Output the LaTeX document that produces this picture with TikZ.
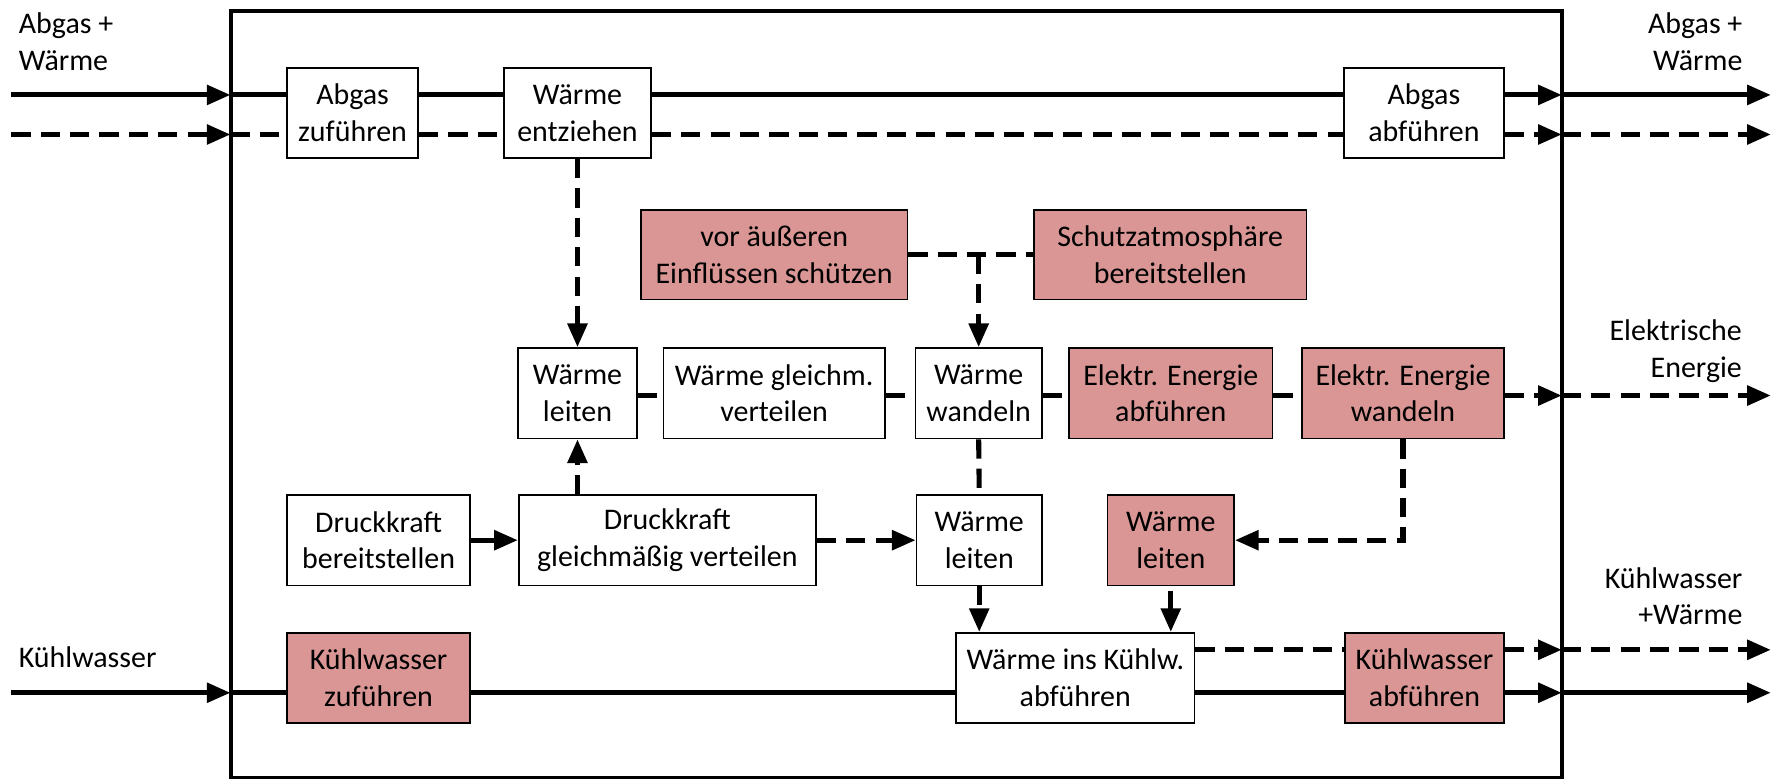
\documentclass[tikz,border=0pt]{standalone}
\usepackage{fontspec}
\setmainfont{Carlito}
\usetikzlibrary{arrows.meta}
\definecolor{pinkfill}{HTML}{D99694}
\newcommand\tw[2]{#1\\#2}
\tikzset{
  box/.style={draw=black, line width=1.5pt, fill=white, inner sep=0pt, align=center,
    font=\fontsize{26.5}{32.5}\selectfont, minimum height=80pt},
  pbox/.style={box, fill=pinkfill},
  flow/.style={line width=4.5pt},
  dflow/.style={flow, dash pattern=on 17pt off 9pt},
  tip/.style={-{Triangle[length=21pt,width=17pt]}},
  lbl/.style={inner sep=0pt, font=\fontsize{26.5}{32.5}\selectfont},
  frame/.style={line width=3.5pt},
}
\begin{document}
\begin{tikzpicture}[x=1pt,y=-1pt]
\useasboundingbox (0,0) rectangle (1568,690);
% levels and frame
\coordinate (FL) at (204,0);
\coordinate (FR) at (1382,0);
\coordinate (L0) at (10,0);
\coordinate (R0) at (1567,0);
\coordinate (ftop) at (0,10);
\coordinate (fbot) at (0,688);
\coordinate (r1s) at (0,84);
\coordinate (r1d) at (0,119);
\coordinate (r3) at (0,350);
\coordinate (r5d) at (0,575);
\coordinate (r5s) at (0,613);

% boxes
\node[box, minimum width=116pt] (zu) at (312,100) {\tw{Abgas}{zuführen}};
\node[box, minimum width=130pt] (ent) at (511,100) {\tw{Wärme}{entziehen}};
\node[box, minimum width=142pt] (abf) at (1260,100) {\tw{Abgas}{abführen}};

\node[pbox, minimum width=236pt, minimum height=79pt] (vor) at (685,225.5) {\tw{vor äußeren}{Einflüssen schützen}};
\node[pbox, minimum width=241pt, minimum height=79pt] (schutz) at (1035.5,225.5) {\tw{Schutzatmosphäre}{bereitstellen}};

\node[box, minimum width=105pt] (wl1) at (511,348) {\tw{Wärme}{leiten}};
\node[box, minimum width=196pt] (wgv) at (685,348) {\tw{Wärme gleichm.}{verteilen}};
\node[box, minimum width=112pt] (ww) at (866,348) {\tw{Wärme}{wandeln}};
\node[pbox, minimum width=180pt] (eea) at (1036,348) {\tw{Elektr. Energie}{abführen}};
\node[pbox, minimum width=179pt] (eew) at (1241.5,348) {\tw{Elektr. Energie}{wandeln}};

\node[box, minimum width=162pt] (dkb) at (335,478) {\tw{Druckkraft}{bereitstellen}};
\node[box, minimum width=263pt] (dkg) at (590.5,478) {\tw{Druckkraft}{gleichmäßig verteilen}};
\node[box, minimum width=111pt] (wl2) at (866.5,478) {\tw{Wärme}{leiten}};
\node[pbox, minimum width=112pt] (wlp) at (1036,478) {\tw{Wärme}{leiten}};

\node[pbox, minimum width=162pt] (kwz) at (335,600) {\tw{Kühlwasser}{zuführen}};
\node[box, minimum width=211pt] (wik) at (951.5,600) {\tw{Wärme ins Kühlw.}{abführen}};
\node[pbox, minimum width=141pt] (kwa) at (1260.5,600) {\tw{Kühlwasser}{abführen}};

% outer flows
\draw[flow,tip] (L0 |- r1s) -- (FL |- r1s);
\draw[dflow,tip] (L0 |- r1d) -- (FL |- r1d);
\draw[flow,tip] (L0 |- r5s) -- (FL |- r5s);
\draw[flow,tip] (FR |- r1s) -- (R0 |- r1s);
\draw[dflow,tip] (FR |- r1d) -- (R0 |- r1d);
\draw[dflow,tip] (FR |- r3) -- (R0 |- r3);
\draw[dflow,tip] (FR |- r5d) -- (R0 |- r5d);
\draw[flow,tip] (FR |- r5s) -- (R0 |- r5s);

% row 1
\draw[flow] (FL |- r1s) -- (zu.west |- r1s);
\draw[flow] (zu.east |- r1s) -- (ent.west |- r1s);
\draw[flow] (ent.east |- r1s) -- (abf.west |- r1s);
\draw[flow,tip] (abf.east |- r1s) -- (FR |- r1s);
\draw[dflow] (FL |- r1d) -- (zu.west |- r1d);
\draw[dflow] (zu.east |- r1d) -- (ent.west |- r1d);
\draw[dflow] (ent.east |- r1d) -- (abf.west |- r1d);
\draw[dflow,tip] (abf.east |- r1d) -- (FR |- r1d);

% vertical from row 1 and row 2
\draw[dflow,tip] (ent.south) -- (wl1.north);
\draw[dflow] (vor.east) -- (schutz.west);
\coordinate (J) at (ww.north |- vor.east);
\draw[dflow,tip] (J) -- (ww.north);

% row 3
\draw[dflow] (wl1.east |- r3) -- (wgv.west |- r3);
\draw[dflow] (wgv.east |- r3) -- (ww.west |- r3);
\draw[dflow] (ww.east |- r3) -- (eea.west |- r3);
\draw[dflow] (eea.east |- r3) -- (eew.west |- r3);
\draw[dflow,tip] (eew.east |- r3) -- (FR |- r3);

% row 4
\draw[dflow,tip] (wl1.south |- dkg.north) -- (wl1.south);
\draw[flow,tip] (dkb.east) -- (dkg.west);
\draw[dflow,tip] (dkg.east) -- (wl2.west);
\draw[dflow] (ww.south) -- (wl2.north);
\draw[dflow,tip] (wl2.south) -- (wl2.south |- wik.north);
\draw[flow,tip,shorten <=4pt] (wlp.south) -- (wlp.south |- wik.north);
\draw[dflow,tip] (eew.south) |- (wlp.east);

% row 5
\draw[flow] (FL |- r5s) -- (kwz.west |- r5s);
\draw[flow] (kwz.east |- r5s) -- (wik.west |- r5s);
\draw[flow] (wik.east |- r5s) -- (kwa.west |- r5s);
\draw[flow,tip] (kwa.east |- r5s) -- (FR |- r5s);
\draw[dflow] (wik.east |- r5d) -- (kwa.west |- r5d);
\draw[dflow,tip] (kwa.east |- r5d) -- (FR |- r5d);

% frame
\draw[frame] (FL |- ftop) rectangle (FR |- fbot);

% labels
\node[lbl, anchor=base west] (lAL) at (16.5,29.5) {\begin{tabular}[t]{@{}l@{}}Abgas +\\Wärme\end{tabular}};
\node[lbl, anchor=base east] (lAR) at (1542,29.5) {\begin{tabular}[t]{@{}r@{}}Abgas +\\Wärme\end{tabular}};
\node[lbl, anchor=base east] (lE) at (1541.5,301.5) {\begin{tabular}[t]{@{}r@{}}Elektrische\\Energie\end{tabular}};
\node[lbl, anchor=base east] (lKR) at (1542,520.5) {\begin{tabular}[t]{@{}r@{}}Kühlwasser\\+Wärme\end{tabular}};
\node[lbl, anchor=base west] (lKL) at (16.5,591) {Kühlwasser};
\end{tikzpicture}
\end{document}
